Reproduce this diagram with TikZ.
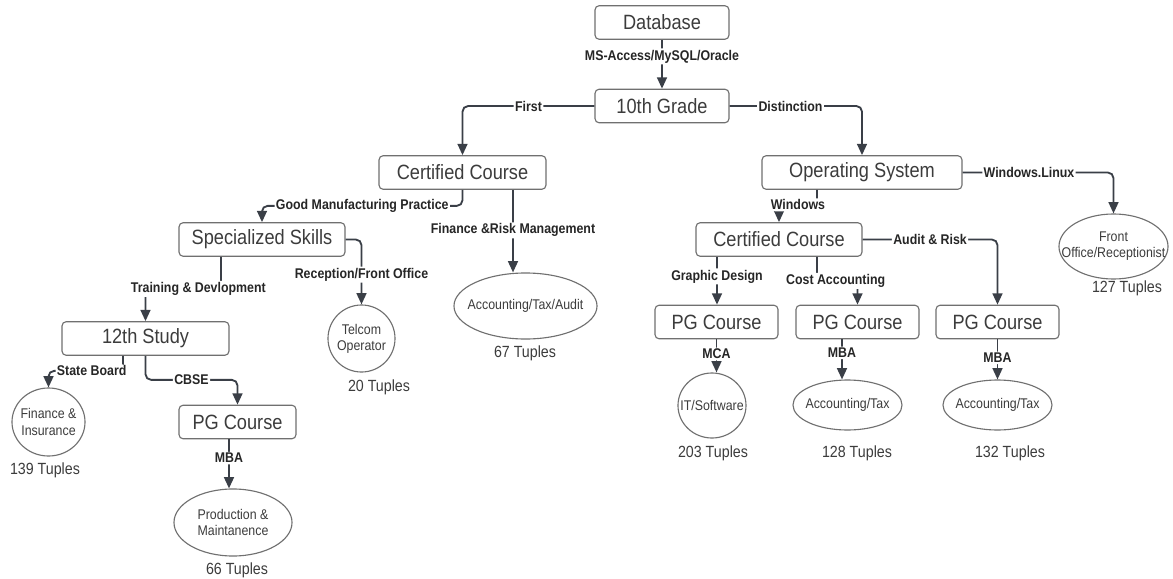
\documentclass[tikz,border=0pt]{standalone}
\usepackage{fontspec}
\setmainfont{Liberation Sans}[FakeStretch=0.88]
\usetikzlibrary{arrows.meta,calc,shapes.geometric}
\definecolor{ln}{HTML}{3A3F47}
\definecolor{bd}{HTML}{707070}
\definecolor{tx}{HTML}{3C3C3C}
\tikzset{
 box/.style={draw=bd, line width=0.8pt, rounded corners=3pt, minimum height=0.84cm, inner sep=0pt, text=tx, font=\fontsize{14.7}{17}\selectfont},
 ell/.style={draw=bd, line width=0.8pt, ellipse, inner sep=0pt},
 etext/.style={text=tx, font=\fontsize{10}{11.5}\selectfont, align=center, inner sep=0pt},
 lbl/.style={fill=white, inner sep=1pt, text=black!85, font=\bfseries\fontsize{10}{12}\selectfont},
 tup/.style={text=tx, font=\fontsize{11.5}{13}\selectfont},
 conn/.style={draw=ln, line width=1.3pt, rounded corners=4pt, -{Triangle[length=8pt,width=7pt]}},
}
\begin{document}
\begin{tikzpicture}[x=0.025cm, y=-0.025cm]
\fill[white] (0,0) rectangle (1173,579);
\useasboundingbox (0,0) rectangle (1173,579);
% boxes
\node[box, minimum width=3.35cm]  (db)    at (662,22.5)  {Database};
\node[box, minimum width=3.35cm]  (tenth) at (662,106)   {10th Grade};
\node[box, minimum width=4.175cm] (ccl)   at (462.5,172.5) {Certified Course};
\node[box, minimum width=5.0cm]   (os)    at (862,172.5) {Operating System};
\node[box, minimum width=4.15cm]  (ss)    at (262,239.5) {Specialized Skills};
\node[box, minimum width=4.175cm] (twelve) at (145.5,338.5) {12th Study};
\node[box, minimum width=2.925cm] (pgl)   at (237.5,422) {PG Course};
\node[box, minimum width=4.15cm]  (ccr)   at (779,239.5) {Certified Course};
\node[box, minimum width=3.075cm] (pg1)   at (716.5,322) {PG Course};
\node[box, minimum width=3.075cm] (pg2)   at (857.5,322) {PG Course};
\node[box, minimum width=3.075cm] (pg3)   at (997.5,322) {PG Course};
% ellipses
\node[ell, minimum width=1.825cm, minimum height=1.7cm]   (fin)  at (48.5,422) {};
\node[etext] (fint) at (fin.center) {Finance \&\\Insurance};
\node[ell, minimum width=2.95cm, minimum height=1.675cm]  (prod) at (233,522.5) {};
\node[etext] (prodt) at (prod.center) {Production \&\\Maintanence};
\node[ell, minimum width=1.675cm, minimum height=1.675cm] (tel)  at (361.5,338.5) {};
\node[etext] (telt) at (tel.center) {Telcom\\Operator};
\node[ell, minimum width=3.575cm, minimum height=1.65cm]  (ata)  at (525.5,306) {};
\node[etext] (atat) at (ata.center) {Accounting/Tax/Audit};
\node[ell, minimum width=1.7cm, minimum height=1.625cm]   (it)   at (712,405.5) {};
\node[etext] (itt) at (it.center) {IT/Software};
\node[ell, minimum width=2.725cm, minimum height=1.25cm]  (at2)  at (847.5,405) {};
\node[etext] (at2t) at (at2.center) {Accounting/Tax};
\node[ell, minimum width=2.725cm, minimum height=1.25cm]  (at3)  at (997.5,405) {};
\node[etext] (at3t) at (at3.center) {Accounting/Tax};
\node[ell, minimum width=2.725cm, minimum height=1.625cm] (fo)   at (1113.5,246.5) {};
\node[etext] (fot) at (fo.center) {Front\\Office/Receptionist};
% tuples
\node[tup] (t139) at (45,470)   {139 Tuples};
\node[tup] (t66)  at (237,570)  {66 Tuples};
\node[tup] (t20)  at (379,387)  {20 Tuples};
\node[tup] (t67)  at (525,353)  {67 Tuples};
\node[tup] (t203) at (713,453)  {203 Tuples};
\node[tup] (t128) at (857,453)  {128 Tuples};
\node[tup] (t132) at (1010,453) {132 Tuples};
\node[tup] (t127) at (1127,288) {127 Tuples};
% helper coordinates
\coordinate (cclb) at ($(ccl.south)+(50.5,0)$);
\coordinate (ssb)  at ($(ss.south)+(-41,0)$);
\coordinate (twb)  at ($(twelve.south)+(-22.5,0)$);
\coordinate (pglb) at ($(pgl.south)+(-8.5,0)$);
\coordinate (osb)  at ($(os.south)+(-45,0)$);
\coordinate (ccrb1) at ($(ccr.south)+(-62,0)$);
\coordinate (ccrb2) at ($(ccr.south)+(38,0)$);
\coordinate (pg2b) at ($(pg2.south)+(-15.5,0)$);
% connectors
\draw[conn] (db.south) -- node[lbl,pos=0.34]{MS-Access/MySQL/Oracle} (tenth.north);
\draw[conn] (tenth.west) -| node[lbl,pos=0.25]{First} (ccl.north);
\draw[conn] (tenth.east) -| node[lbl,pos=0.23]{Distinction} (os.north);
\draw[conn] (ccl.south) -- ++(0,16) -| node[lbl,pos=0.25]{Good Manufacturing Practice} (ss.north);
\draw[conn] (cclb) -- node[lbl,pos=0.49]{Finance \&Risk Management} (cclb |- ata.north);
\draw[conn] (ss.east) -| node[lbl,pos=0.77]{Reception/Front Office} (tel.north);
\draw[conn] (ssb) -- ++(0,32) -| node[lbl,pos=0.15]{Training \& Devlopment} (twelve.north);
\draw[conn] (twb) -- ++(0,15) -| node[lbl,pos=0.21]{State Board} (fin.north);
\draw[conn] (twelve.south) -- ++(0,24) -| node[lbl,pos=0.25]{CBSE} (pgl.north);
\draw[conn] (pglb) -- node[lbl,pos=0.38]{MBA} (pglb |- prod.north);
\draw[conn] (os.east) -| node[lbl,pos=0.22]{Windows.Linux} (fo.north);
\draw[conn] (osb) -- ++(0,15) -| node[lbl,pos=0.25]{Windows} (ccr.north);
\draw[conn] (ccrb1) -- node[lbl,pos=0.41]{Graphic Design} (ccrb1 |- pg1.north);
\draw[conn] (ccrb2) -- ++(0,24) -| node[lbl,pos=0.23]{Cost Accounting} (pg2.north);
\draw[conn] (ccr.east) -| node[lbl,pos=0.25]{Audit \& Risk} (pg3.north);
\draw[conn] (pg1.south) -- node[lbl,pos=0.44]{MCA} (pg1.south |- it.north);
\draw[conn] (pg2b) -- node[lbl,pos=0.34]{MBA} (pg2b |- at2.north);
\draw[conn] (pg3.south) -- node[lbl,pos=0.46]{MBA} (pg3.south |- at3.north);
\end{tikzpicture}
\end{document}
